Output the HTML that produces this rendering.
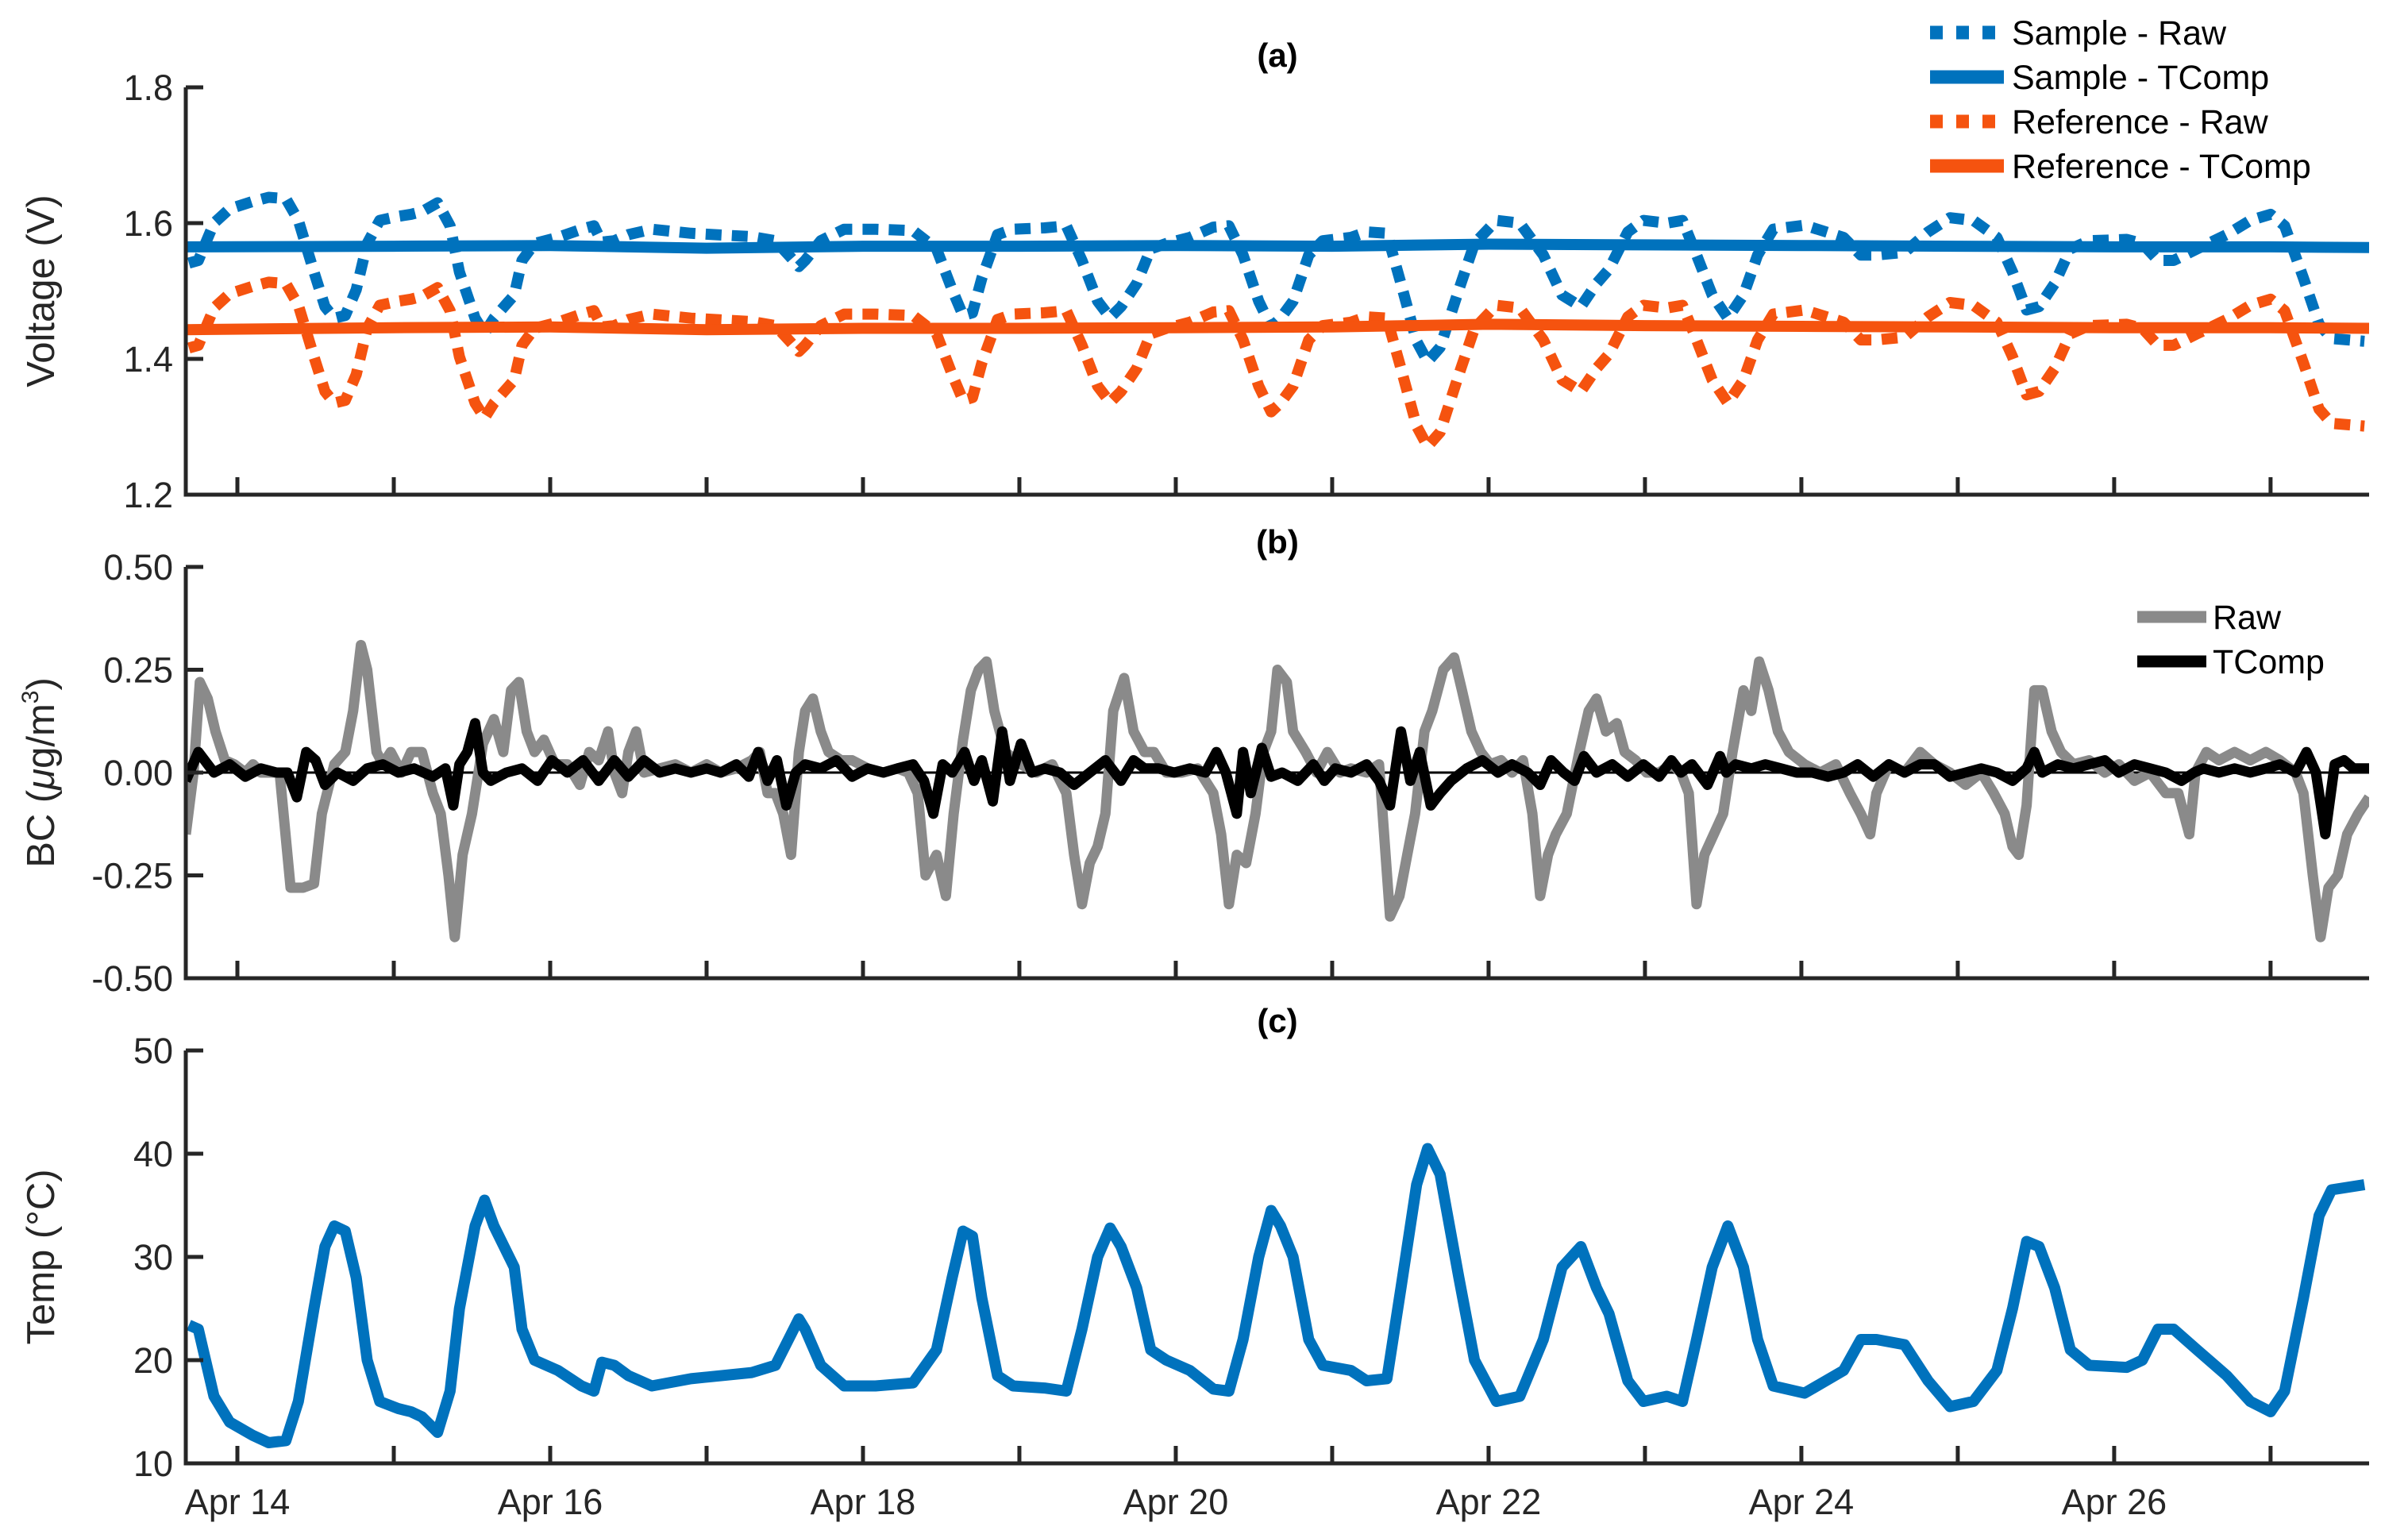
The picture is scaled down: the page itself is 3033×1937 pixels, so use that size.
<!DOCTYPE html>
<html><head><meta charset="utf-8"><style>
html,body{margin:0;padding:0;background:#fff;}
svg{display:block;font-family:"Liberation Sans",Helvetica,Arial,sans-serif;}
</style></head><body>
<svg id="fig" width="3033" height="1937" viewBox="0 0 3033 1937" xmlns="http://www.w3.org/2000/svg"></svg>
<script>
// ---------- DATA ----------
const dayLabels = ["Apr 14","Apr 15","Apr 16","Apr 17","Apr 18","Apr 19","Apr 20","Apr 21","Apr 22","Apr 23","Apr 24","Apr 25","Apr 26","Apr 27"];
const voltTicks = [1.2,1.4,1.6,1.8];
const voltTickLabels = ["1.2","1.4","1.6","1.8"];
const bcTicks = [-0.5,-0.25,0,0.25,0.5];
const bcTickLabels = ["-0.50","-0.25","0.00","0.25","0.50"];
const tempTicks = [10,20,30,40,50];
const tempTickLabels = ["10","20","30","40","50"];

// times in days since Apr 14 00:00
const tempTime = [-0.31,-0.25,-0.15,-0.05,0.1,0.2,0.31,0.39,0.49,0.56,0.62,0.69,0.76,0.83,0.91,1.03,1.11,1.18,1.28,1.36,1.42,1.52,1.58,1.64,1.77,1.82,1.9,2.05,2.2,2.28,2.33,2.41,2.5,2.65,2.9,3.29,3.44,3.54,3.59,3.63,3.73,3.88,4.08,4.32,4.47,4.57,4.64,4.7,4.76,4.86,4.96,5.16,5.3,5.4,5.5,5.58,5.65,5.75,5.84,5.94,6.09,6.24,6.34,6.43,6.53,6.61,6.67,6.75,6.85,6.94,7.12,7.22,7.35,7.44,7.54,7.61,7.69,7.81,7.91,8.05,8.2,8.35,8.47,8.59,8.69,8.77,8.89,8.99,9.14,9.24,9.33,9.43,9.53,9.63,9.72,9.82,10.02,10.27,10.38,10.48,10.66,10.81,10.95,11.1,11.25,11.35,11.44,11.52,11.62,11.72,11.84,12.08,12.18,12.28,12.38,12.53,12.72,12.87,13.0,13.09,13.21,13.31,13.39,13.6];
const tempValues = [23.4,23,16.5,14,12.7,12,12.2,16,25,31,33,32.5,28,20,16,15.3,15,14.5,13,17,25,33,35.5,33,29,23,20,19,17.5,17,19.8,19.5,18.5,17.5,18.2,18.8,19.5,22.5,24,23,19.5,17.5,17.5,17.8,21,28,32.5,32,26,18.5,17.5,17.3,17,23,30,32.8,31,27,21,20,19,17.2,17,22,30,34.5,33,30,22,19.5,19,18,18.2,27,37,40.5,38,28,20,16,16.5,22,29,31,27,24.5,18,16,16.5,16,22,29,33,29,22,17.5,16.8,19,22,22,21.5,18,15.5,16,19,25,31.5,31,27,21,19.5,19.3,20,23,23,21,18.5,16,15,17,26,34,36.5,37];
const sampleRaw = [1.541,1.545,1.600,1.621,1.632,1.638,1.636,1.604,1.528,1.477,1.460,1.464,1.502,1.570,1.604,1.610,1.613,1.617,1.630,1.596,1.528,1.460,1.438,1.460,1.494,1.545,1.570,1.579,1.591,1.596,1.572,1.574,1.583,1.591,1.585,1.580,1.574,1.549,1.536,1.545,1.574,1.591,1.591,1.589,1.562,1.502,1.464,1.468,1.519,1.583,1.591,1.593,1.596,1.545,1.485,1.461,1.477,1.511,1.562,1.570,1.579,1.594,1.596,1.553,1.485,1.447,1.460,1.485,1.553,1.574,1.579,1.587,1.585,1.511,1.426,1.396,1.417,1.502,1.570,1.604,1.600,1.553,1.494,1.477,1.511,1.532,1.587,1.604,1.600,1.604,1.553,1.494,1.460,1.494,1.553,1.591,1.597,1.579,1.553,1.553,1.557,1.587,1.608,1.604,1.579,1.528,1.472,1.477,1.511,1.562,1.574,1.576,1.570,1.545,1.545,1.562,1.583,1.604,1.613,1.596,1.519,1.451,1.430,1.426];
const refRaw = [1.416,1.420,1.475,1.496,1.507,1.513,1.511,1.479,1.403,1.352,1.335,1.339,1.377,1.445,1.479,1.485,1.488,1.492,1.505,1.471,1.403,1.335,1.313,1.335,1.369,1.420,1.445,1.454,1.466,1.471,1.447,1.449,1.458,1.466,1.460,1.455,1.449,1.424,1.411,1.420,1.449,1.466,1.466,1.464,1.437,1.377,1.339,1.343,1.394,1.458,1.466,1.468,1.471,1.420,1.360,1.336,1.352,1.386,1.437,1.445,1.454,1.469,1.471,1.428,1.360,1.322,1.335,1.360,1.428,1.449,1.454,1.462,1.460,1.386,1.301,1.271,1.292,1.377,1.445,1.479,1.475,1.428,1.369,1.352,1.386,1.407,1.462,1.479,1.475,1.479,1.428,1.369,1.335,1.369,1.428,1.466,1.472,1.454,1.428,1.428,1.432,1.462,1.483,1.479,1.454,1.403,1.347,1.352,1.386,1.437,1.449,1.451,1.445,1.420,1.420,1.437,1.458,1.479,1.488,1.471,1.394,1.326,1.305,1.301];
const compTime = [-0.33,1,2,3,4,5,6,7,8,9,10,11,12,13,13.63];
const sampleComp = [1.565,1.566,1.567,1.563,1.566,1.566,1.567,1.566,1.569,1.568,1.567,1.566,1.565,1.565,1.564];
const refComp = [1.443,1.446,1.447,1.443,1.445,1.445,1.446,1.447,1.451,1.449,1.448,1.447,1.446,1.446,1.445];

const bcRawTime = [-0.33,-0.28,-0.24,-0.19,-0.14,-0.08,-0.02,0.05,0.10,0.15,0.20,0.27,0.34,0.42,0.49,0.54,0.62,0.69,0.74,0.79,0.83,0.89,0.93,0.98,1.05,1.11,1.18,1.25,1.30,1.35,1.39,1.44,1.50,1.57,1.64,1.70,1.75,1.80,1.85,1.90,1.96,2.03,2.11,2.19,2.25,2.31,2.37,2.41,2.46,2.50,2.55,2.60,2.70,2.80,2.90,3.00,3.09,3.19,3.29,3.34,3.39,3.44,3.49,3.54,3.59,3.63,3.68,3.73,3.78,3.86,3.93,4.03,4.13,4.22,4.29,4.35,4.40,4.47,4.53,4.58,4.64,4.69,4.74,4.79,4.84,4.91,5.01,5.11,5.21,5.30,5.35,5.40,5.45,5.50,5.55,5.60,5.67,5.73,5.80,5.86,5.94,6.04,6.14,6.24,6.29,6.34,6.39,6.45,6.51,6.56,6.61,6.65,6.71,6.75,6.83,6.90,6.97,7.05,7.12,7.22,7.30,7.37,7.43,7.48,7.53,7.59,7.64,7.71,7.78,7.83,7.89,7.95,8.01,8.08,8.15,8.22,8.28,8.33,8.38,8.43,8.50,8.58,8.64,8.69,8.75,8.82,8.87,8.94,9.01,9.09,9.17,9.23,9.28,9.33,9.38,9.44,9.50,9.56,9.63,9.68,9.73,9.79,9.85,9.92,10.02,10.12,10.22,10.31,10.38,10.44,10.48,10.56,10.66,10.76,10.85,10.95,11.05,11.15,11.23,11.30,11.35,11.39,11.44,11.49,11.54,11.60,11.66,11.74,11.84,11.94,12.03,12.13,12.23,12.33,12.41,12.48,12.52,12.59,12.67,12.77,12.87,12.97,13.06,13.16,13.21,13.27,13.32,13.37,13.43,13.49,13.56,13.63];
const bcRaw = [-0.15,0.0,0.22,0.18,0.1,0.03,0.02,0.0,0.02,0.0,0.0,0.0,-0.28,-0.28,-0.27,-0.1,0.02,0.05,0.15,0.31,0.25,0.05,0.02,0.05,0.0,0.05,0.05,-0.05,-0.1,-0.25,-0.4,-0.2,-0.1,0.07,0.13,0.05,0.2,0.22,0.1,0.05,0.08,0.02,0.02,-0.03,0.05,0.03,0.1,0.0,-0.05,0.05,0.1,0.0,0.01,0.02,0.0,0.02,0.0,0.01,0.03,0.05,-0.05,-0.05,-0.1,-0.2,0.05,0.15,0.18,0.1,0.05,0.03,0.03,0.01,0.0,0.01,0.0,-0.05,-0.25,-0.2,-0.3,-0.1,0.08,0.2,0.25,0.27,0.15,0.05,0.02,0.0,0.02,-0.05,-0.2,-0.32,-0.22,-0.18,-0.1,0.15,0.23,0.1,0.05,0.05,0.0,0.0,0.01,-0.05,-0.15,-0.32,-0.2,-0.22,-0.1,0.05,0.1,0.25,0.22,0.1,0.05,0.0,0.05,0.0,0.01,0.0,0.02,-0.35,-0.3,-0.2,-0.1,0.1,0.15,0.25,0.28,0.2,0.1,0.05,0.02,0.03,0.0,0.03,-0.1,-0.3,-0.2,-0.15,-0.1,0.05,0.15,0.18,0.1,0.12,0.05,0.03,0.0,0.0,0.02,0.0,-0.05,-0.32,-0.2,-0.15,-0.1,0.05,0.2,0.15,0.27,0.2,0.1,0.05,0.02,0.0,0.02,-0.05,-0.1,-0.15,-0.05,0.02,0.0,0.05,0.02,0.0,-0.03,0.0,-0.05,-0.1,-0.18,-0.2,-0.08,0.2,0.2,0.1,0.05,0.02,0.03,0.0,0.02,-0.02,0.0,-0.05,-0.05,-0.15,0.0,0.05,0.03,0.05,0.03,0.05,0.03,0.0,-0.05,-0.25,-0.4,-0.28,-0.25,-0.15,-0.1,-0.06];
const bcCompTime = [-0.33,-0.25,-0.15,-0.05,0.05,0.15,0.25,0.32,0.38,0.44,0.50,0.56,0.64,0.74,0.83,0.93,1.03,1.13,1.25,1.33,1.38,1.42,1.47,1.52,1.57,1.62,1.72,1.82,1.92,2.01,2.11,2.21,2.31,2.41,2.50,2.60,2.70,2.80,2.90,3.00,3.09,3.19,3.27,3.33,3.39,3.45,3.51,3.57,3.63,3.73,3.83,3.93,4.03,4.13,4.22,4.32,4.39,4.45,4.51,4.57,4.65,4.71,4.76,4.83,4.89,4.94,5.01,5.08,5.16,5.26,5.35,5.45,5.55,5.65,5.73,5.80,5.89,5.99,6.09,6.19,6.26,6.32,6.39,6.43,6.48,6.55,6.61,6.68,6.78,6.88,6.95,7.02,7.12,7.22,7.30,7.37,7.44,7.50,7.56,7.63,7.69,7.76,7.86,7.96,8.06,8.15,8.25,8.33,8.40,8.48,8.55,8.61,8.69,8.79,8.89,8.99,9.09,9.17,9.23,9.30,9.40,9.48,9.52,9.58,9.68,9.77,9.87,9.97,10.07,10.17,10.27,10.36,10.46,10.56,10.66,10.76,10.85,10.95,11.05,11.15,11.25,11.35,11.44,11.49,11.54,11.64,11.74,11.84,11.94,12.03,12.13,12.23,12.33,12.43,12.51,12.57,12.67,12.77,12.87,12.97,13.06,13.16,13.23,13.29,13.35,13.41,13.47,13.53,13.63];
const bcComp = [-0.02,0.05,0.0,0.02,-0.01,0.01,0.0,0.0,-0.06,0.05,0.03,-0.03,0.0,-0.02,0.01,0.02,0.0,0.01,-0.01,0.01,-0.08,0.02,0.05,0.12,0.0,-0.02,0.0,0.01,-0.02,0.03,0.0,0.03,-0.02,0.03,-0.01,0.03,0.0,0.01,0.0,0.01,0.0,0.02,-0.01,0.05,-0.02,0.03,-0.08,0.0,0.02,0.01,0.03,-0.01,0.01,0.0,0.01,0.02,-0.02,-0.1,0.02,0.0,0.05,-0.02,0.03,-0.07,0.1,-0.02,0.07,0.0,0.01,0.0,-0.03,0.0,0.03,-0.02,0.03,0.01,0.01,0.0,0.01,0.0,0.05,0.0,-0.1,0.05,-0.05,0.06,-0.01,0.0,-0.02,0.02,-0.02,0.01,0.0,0.02,-0.02,-0.08,0.1,-0.02,0.05,-0.08,-0.05,-0.02,0.01,0.03,0.0,0.02,0.0,-0.03,0.03,0.0,-0.02,0.04,0.0,0.02,-0.01,0.02,-0.01,0.03,0.0,0.02,-0.03,0.04,0.0,0.02,0.01,0.02,0.01,0.0,0.0,-0.01,0.0,0.02,-0.01,0.02,0.0,0.02,0.02,-0.01,0.0,0.01,0.0,-0.02,0.01,0.05,0.0,0.02,0.01,0.02,0.03,0.0,0.02,0.01,0.0,-0.02,0.0,0.01,0.0,0.01,0.0,0.01,0.02,0.0,0.05,0.0,-0.15,0.02,0.03,0.01,0.01];

// ---------- LAYOUT ----------
const NS = "http://www.w3.org/2000/svg";
const svg = document.getElementById('fig');
const X0 = 234, X1 = 2984, DMIN = -0.33, DMAX = 13.63;
const xScale = d => X0 + (d - DMIN) / (DMAX - DMIN) * (X1 - X0);
const BLUE = "#0072BD", ORANGE = "#F5530F", GREY = "#8a8a8a", AX = "#262626";

function el(tag, attrs, parent) {
  const e = document.createElementNS(NS, tag);
  for (const k in attrs) e.setAttribute(k, attrs[k]);
  (parent || svg).appendChild(e);
  return e;
}
function mkY(top, bot, vmin, vmax) { return v => bot - (v - vmin) / (vmax - vmin) * (bot - top); }

function pathFrom(ts, vs, y) {
  const n = Math.min(ts.length, vs.length);
  let d = "";
  for (let i = 0; i < n; i++) d += (i ? "L" : "M") + xScale(ts[i]).toFixed(1) + "," + y(vs[i]).toFixed(1);
  return d;
}

function panel(key, top, bot, vmin, vmax, ticks, labels, ylabel, title, titleY) {
  const g = el('g', {});
  
  
  const cp = el('clipPath', {id: 'clip-' + key}, g);
  el('rect', {x: X0, y: top - 2, width: X1 - X0, height: bot - top + 4}, cp);
  const y = mkY(top, bot, vmin, vmax);
  const plot = el('g', {'clip-path': 'url(#clip-' + key + ')'}, g);
  
  
  const ax = el('path', {d: `M${X0},${top}L${X0},${bot}L${X1},${bot}`, fill: 'none', stroke: AX, 'stroke-width': 5}, g);
  
  
  ticks.forEach((t, i) => {
    const yy = y(t);
    const tk = el('line', {x1: X0, x2: X0 + 22, y1: yy, y2: yy, stroke: AX, 'stroke-width': 5}, g);
    
    
    const tx = el('text', {x: X0 - 16, y: yy + 16, 'text-anchor': 'end', 'font-size': 45, fill: AX}, g);
    tx.textContent = labels[i];
    
    
  });
  dayLabels.forEach((lab, i) => {
    const xx = xScale(i);
    const tk = el('line', {x1: xx, x2: xx, y1: bot, y2: bot - 22, stroke: AX, 'stroke-width': 5}, g);
    
    
  });
  const yl = el('text', {x: 0, y: 0, transform: `translate(68,${(top + bot) / 2}) rotate(-90)`, 'text-anchor': 'middle', 'font-size': 49, fill: AX}, g);
  yl.innerHTML = ylabel;
  
  
  const ti = el('text', {x: 1609, y: titleY, 'text-anchor': 'middle', 'font-size': 42, 'font-weight': 'bold', fill: '#000'}, g);
  ti.textContent = title;
  
  
  return {plot, y, g};
}

// Panel a
const A = panel('a', 110, 623, 1.2, 1.8, voltTicks, voltTickLabels, 'Voltage (V)', '(a)', 84);
const series = [
  ['sample-raw-line', sampleRaw, tempTime, BLUE, true],
  ['reference-raw-line', refRaw, tempTime, ORANGE, true],
  ['sample-tcomp-line', sampleComp, compTime, BLUE, false],
  ['reference-tcomp-line', refComp, compTime, ORANGE, false]
];
series.forEach(s => {
  const p = el('path', {d: pathFrom(s[2], s[1], A.y), fill: 'none', stroke: s[3], 'stroke-width': 14, 'stroke-linejoin': 'round'}, A.plot);
  if (s[4]) p.setAttribute('stroke-dasharray', '20 13');
  
  
});
const legA = el('g', {});


[['Sample - Raw', BLUE, true, 41], ['Sample - TComp', BLUE, false, 97], ['Reference - Raw', ORANGE, true, 153], ['Reference - TComp', ORANGE, false, 209]].forEach(r => {
  const ln = el('line', {x1: 2431, x2: 2524, y1: r[3], y2: r[3], stroke: r[1], 'stroke-width': 17}, legA);
  if (r[2]) ln.setAttribute('stroke-dasharray', '16 17');
  
  
  const t = el('text', {x: 2534, y: r[3] + 15, 'font-size': 43, fill: '#000'}, legA);
  t.textContent = r[0];
  
  
});

// Panel b
const B = panel('b', 714, 1232, -0.5, 0.5, bcTicks, bcTickLabels, 'BC (<tspan font-style="italic">μ</tspan>g/m<tspan font-size="30" dy="-20">3</tspan><tspan dy="20">)</tspan>', '(b)', 697);
const zl = el('line', {x1: X0, x2: X1, y1: B.y(0), y2: B.y(0), stroke: '#000', 'stroke-width': 3}, B.plot);


const rp = el('path', {d: pathFrom(bcRawTime, bcRaw, B.y), fill: 'none', stroke: GREY, 'stroke-width': 13, 'stroke-linejoin': 'round'}, B.plot);


const cpth = el('path', {d: pathFrom(bcCompTime, bcComp, B.y), fill: 'none', stroke: '#000', 'stroke-width': 13, 'stroke-linejoin': 'round'}, B.plot);


const legB = el('g', {});


[['Raw', GREY, 777], ['TComp', '#000', 833]].forEach(r => {
  const ln = el('line', {x1: 2692, x2: 2779, y1: r[2], y2: r[2], stroke: r[1], 'stroke-width': 15}, legB);
  
  
  const t = el('text', {x: 2787, y: r[2] + 15, 'font-size': 43, fill: '#000'}, legB);
  t.textContent = r[0];
  
  
});

// Panel c
const C = panel('c', 1323, 1843, 10, 50, tempTicks, tempTickLabels, 'Temp (°C)', '(c)', 1300);
const tp = el('path', {d: pathFrom(tempTime, tempValues, C.y), fill: 'none', stroke: BLUE, 'stroke-width': 14, 'stroke-linejoin': 'round'}, C.plot);


dayLabels.forEach((lab, i) => {
  if (i % 2) return;
  const t = el('text', {x: xScale(i), y: 1907, 'text-anchor': 'middle', 'font-size': 45, fill: AX});
  t.textContent = lab;
  
  
});
</script>
</body></html>
